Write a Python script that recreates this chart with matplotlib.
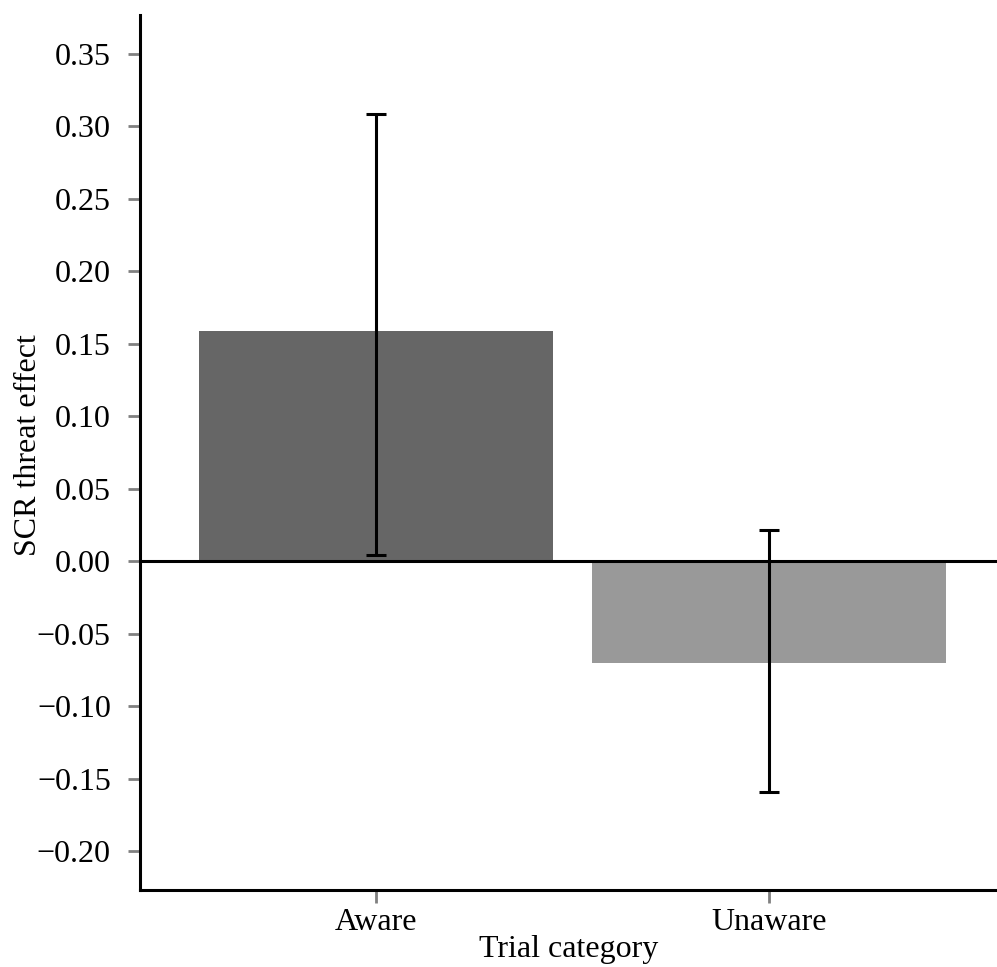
import matplotlib
matplotlib.use("Agg")
import matplotlib.pyplot as plt

categories = ["Aware", "Unaware"]
means = [0.1586, -0.0700]
err_upper = [0.308, 0.0216]
err_lower = [0.0039, -0.159]
colors = ["#666666", "#999999"]
yticks = [-0.20, -0.15, -0.10, -0.05, 0.00, 0.05, 0.10, 0.15, 0.20, 0.25, 0.30, 0.35]

plt.rcParams['font.family'] = ['Liberation Serif', 'DejaVu Serif']

fig = plt.figure(figsize=(9.97, 9.67), dpi=100)
ax = fig.add_axes([140/997, 77/967, 857/997, 875/967])

x = list(range(len(categories)))
ax.bar(x, means, width=0.90, color=colors, zorder=1)
yerr = [[m - lo for m, lo in zip(means, err_lower)], [hi - m for m, hi in zip(means, err_upper)]]
ax.errorbar(x, means, yerr=yerr, fmt='none', ecolor='black', elinewidth=2.2,
            capsize=7.5, capthick=2.2, zorder=3)
ax.axhline(0, color='black', lw=2.2, zorder=2)

ax.set_xlim(-0.6005, 1.580)
ax.set_ylim(-0.2269, 0.3766)
ax.set_yticks(yticks)
ax.set_yticklabels([f"{v:.2f}".replace("-", "\u2212") for v in yticks])
ax.set_xticks(x)
ax.set_xticklabels(categories)

for s in ['top', 'right']:
    ax.spines[s].set_visible(False)
for s in ['left', 'bottom']:
    ax.spines[s].set_linewidth(2.2)
ax.tick_params(axis='both', length=9, width=2, color='#808080', labelsize=23)
ax.tick_params(axis='y', pad=12)
ax.tick_params(axis='x', pad=4)

ax.set_ylabel("SCR threat effect", fontsize=23)
ax.yaxis.set_label_coords(-0.113, 0.509)
ax.set_xlabel("Trial category", fontsize=23)
ax.xaxis.set_label_coords(0.5, -0.052)

fig.savefig("out.png", dpi=100, facecolor='white')
